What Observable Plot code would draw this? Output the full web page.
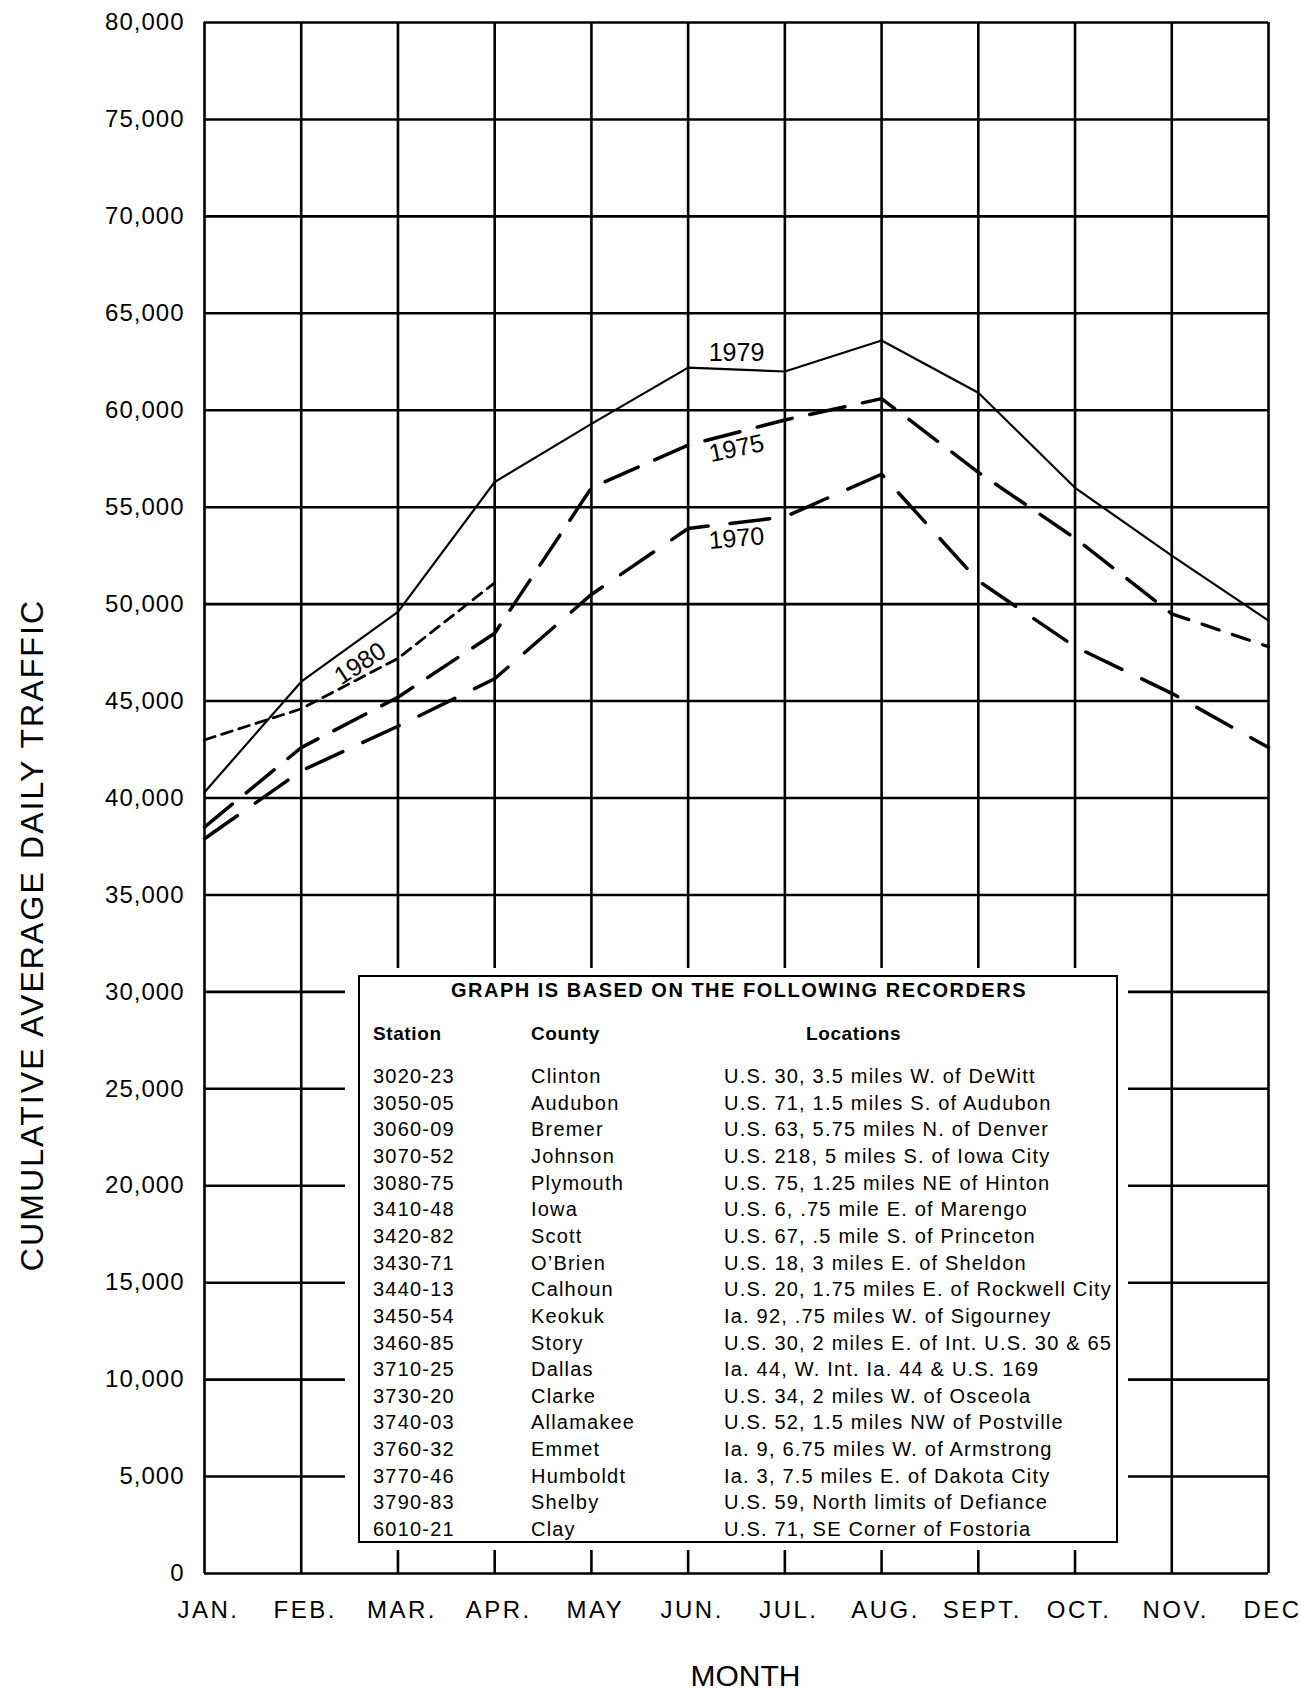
<!DOCTYPE html>
<html><head><meta charset="utf-8">
<script src="https://cdn.jsdelivr.net/npm/d3@7"></script>
<script src="https://cdn.jsdelivr.net/npm/@observablehq/plot@0.6"></script>
<style>
html,body{margin:0;padding:0;background:#fff;}
#wrap{position:relative;width:1301px;height:1694px;overflow:hidden;font-family:"Liberation Sans",Arial,Helvetica,sans-serif;color:#000;}
#chart svg{display:block;}
g[aria-label="x-axis tick label"] text{letter-spacing:2.5px;}
g[aria-label="y-axis tick label"] text{letter-spacing:1px;}
g[aria-label="axis-title"] text{letter-spacing:2px;}
#ytitle{position:absolute;left:32px;top:935px;transform:translate(-50%,-50%) rotate(-90deg);font-size:32px;letter-spacing:2.1px;white-space:nowrap;line-height:32px;}
#legend{position:absolute;left:345px;top:968px;width:783px;height:582px;background:#fff;}
#box{position:absolute;left:13px;top:7px;width:760px;height:568px;box-sizing:border-box;border:2px solid #000;background:#fff;}
#box div{position:absolute;white-space:nowrap;line-height:20px;height:20px;}
.ttl{font-weight:bold;font-size:20px;letter-spacing:1.5px;transform:translateX(-50%);}
.hdr{font-weight:bold;font-size:19px;letter-spacing:0.6px;}
.row{font-size:20px;letter-spacing:1.2px;}
</style></head>
<body>
<div id="wrap"><div id="chart"></div><div id="ytitle"></div><div id="legend"><div id="box"></div></div></div>
<script>
const months = ["JAN.","FEB.","MAR.","APR.","MAY","JUN.","JUL.","AUG.","SEPT.","OCT.","NOV.","DEC"];
const yTicks = [0,5000,10000,15000,20000,25000,30000,35000,40000,45000,50000,55000,60000,65000,70000,75000,80000];
const v1979 = [40300, 46000, 49600, 56300, 59300, 62200, 62000, 63600, 60900, 56000, 52500, 49150];
const v1975 = [38500, 42600, 45200, 48500, 56000, 58200, 59500, 60600, 56800, 53400, 49500, 47800];
const v1970 = [37900, 41400, 43700, 46150, 50500, 53900, 54500, 56700, 51200, 47800, 45400, 42600];
const v1980 = [43000, 44600, 47200, 51100];
const labelText = ["1979", "1975", "1970", "1980"];
const labelMonth = [5.5, 5.5, 5.5, 1.61];
const labelValue = [62970, 58020, 53380, 46930];
const labelAngle = [0, -12, -5, -33];
const yTitle = "CUMULATIVE  AVERAGE DAILY TRAFFIC";
const xTitle = "MONTH";
const legendTitle = "GRAPH IS BASED ON THE FOLLOWING RECORDERS";
const legendHeaders = ["Station", "County", "Locations"];
const stations = ["3020-23","3050-05","3060-09","3070-52","3080-75","3410-48","3420-82","3430-71","3440-13","3450-54","3460-85","3710-25","3730-20","3740-03","3760-32","3770-46","3790-83","6010-21"];
const counties = ["Clinton","Audubon","Bremer","Johnson","Plymouth","Iowa","Scott","O\u2019Brien","Calhoun","Keokuk","Story","Dallas","Clarke","Allamakee","Emmet","Humboldt","Shelby","Clay"];
const locations = ["U.S. 30, 3.5 miles W. of DeWitt","U.S. 71, 1.5 miles S. of Audubon","U.S. 63, 5.75 miles N. of Denver","U.S. 218, 5 miles S. of Iowa City","U.S. 75, 1.25 miles NE of Hinton","U.S. 6, .75 mile E. of Marengo","U.S. 67, .5 mile S. of Princeton","U.S. 18, 3 miles E. of Sheldon","U.S. 20, 1.75 miles E. of Rockwell City","Ia. 92, .75 miles W. of Sigourney","U.S. 30, 2 miles E. of Int. U.S. 30 & 65","Ia. 44, W. Int. Ia. 44 & U.S. 169","U.S. 34, 2 miles W. of Osceola","U.S. 52, 1.5 miles NW of Postville","Ia. 9, 6.75 miles W. of Armstrong","Ia. 3, 7.5 miles E. of Dakota City","U.S. 59, North limits of Defiance","U.S. 71, SE Corner of Fostoria"];

const toRows = (vals) => vals.map((v, i) => ({m: i, v}));
const labels = labelText.map((t, i) => ({t, m: labelMonth[i], v: labelValue[i], r: labelAngle[i]}));
const font = '"Liberation Sans", Arial, Helvetica, sans-serif';
const r1975 = toRows(v1975);

const plot = Plot.plot({
  width: 1301, height: 1694,
  marginLeft: 204, marginRight: 33, marginTop: 22, marginBottom: 121,
  style: {fontFamily: font, fontSize: "24px", color: "#000", background: "#fff", overflow: "visible"},
  x: {type: "linear", domain: [0, 11], label: null},
  y: {domain: [0, 80000], label: null},
  marks: [
    Plot.gridY({ticks: yTicks, stroke: "#000", strokeOpacity: 1, strokeWidth: 2.6}),
    Plot.gridX({ticks: d3.range(months.length), stroke: "#000", strokeOpacity: 1, strokeWidth: 2.6}),
    Plot.axisY({ticks: yTicks, tickSize: 0, tickPadding: 20, tickFormat: d3.format(","), fontSize: 24, label: null}),
    Plot.axisX({ticks: d3.range(months.length), tickSize: 0, tickPadding: 27, dx: 4, tickFormat: i => months[i], fontSize: 24, label: null}),
    Plot.line(toRows(v1970), {x: "m", y: "v", stroke: "#000", strokeWidth: 3.5, strokeDasharray: "40,22"}),
    Plot.line(r1975.slice(0, 11), {x: "m", y: "v", stroke: "#000", strokeWidth: 3.5, strokeDasharray: "36,18"}),
    Plot.line(r1975.slice(10), {x: "m", y: "v", stroke: "#000", strokeWidth: 3.3, strokeDasharray: "18,14"}),
    Plot.line(toRows(v1980), {x: "m", y: "v", stroke: "#000", strokeWidth: 2.8, strokeDasharray: "11,7"}),
    Plot.line(toRows(v1979), {x: "m", y: "v", stroke: "#000", strokeWidth: 2.2}),
    Plot.text(labels, {x: "m", y: "v", text: "t", rotate: "r", fontSize: 25, fill: "#000"}),
    Plot.text([xTitle], {text: d => d, frameAnchor: "bottom", dx: 9, dy: 112, fontSize: 30, ariaLabel: "axis-title"})
  ]
});
document.getElementById("chart").append(plot);
document.getElementById("ytitle").textContent = yTitle;

// legend box
const box = document.getElementById("box");
function add(cls, text, left, cy) {
  const d = document.createElement("div");
  d.className = cls; d.textContent = text;
  d.style.left = left + "px"; d.style.top = (cy - 10) + "px";
  box.append(d);
}
add("ttl", legendTitle, 379, 13);
add("hdr", legendHeaders[0], 13, 57);
add("hdr", legendHeaders[1], 171, 57);
add("hdr", legendHeaders[2], 446, 57);
stations.forEach((s, i) => {
  const cy = 99 + i * 26.65;
  add("row", s, 13, cy);
  add("row", counties[i], 171, cy);
  add("row", locations[i], 364, cy);
});
</script>
</body></html>
